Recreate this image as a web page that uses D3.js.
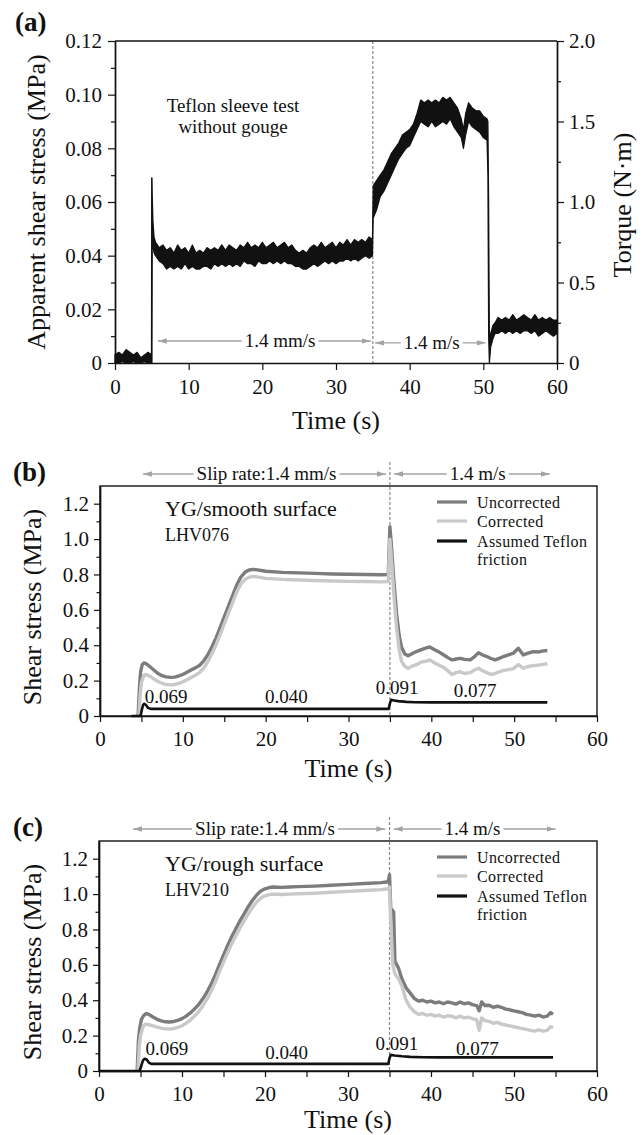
<!DOCTYPE html>
<html>
<head>
<meta charset="utf-8">
<script src="https://cdn.jsdelivr.net/npm/d3@7"></script>
<style>
  body { margin: 0; background: #fff; }
  svg text { font-family: "Liberation Serif", "Times New Roman", serif; fill: #111; }
</style>
</head>
<body>
<svg id="fig" width="644" height="1135"></svg>
<script>
// ---- data ----
// (a) Teflon sleeve test: [time s, lower edge, upper edge] of the noisy trace (MPa)
var aTrace = [
  [0,0,0.003],[0.5,0,0.004],[1,0.0005,0.003],[1.5,0,0.005],[2,0,0.004],[2.5,0.0005,0.003],[3,0,0.004],
  [3.5,0,0.002],[4,0.0005,0.003],[4.5,0,0.004],[4.95,0,0.003],[4.98,0,0.069],[5.02,0,0.069],
  [5.06,0.05,0.062],[5.15,0.044,0.053],[5.3,0.041,0.047],[5.5,0.040,0.045],[5.75,0.039,0.044],
  [6,0.038,0.043],[6.5,0.037,0.044],[7,0.035,0.042],[7.5,0.036,0.043],[8,0.035,0.041],[8.5,0.036,0.044],
  [9,0.035,0.042],[9.5,0.037,0.043],[10,0.035,0.041],[10.5,0.036,0.044],[11,0.035,0.041],[11.5,0.035,0.042],
  [12,0.036,0.041],[12.5,0.036,0.043],[13,0.035,0.042],[13.5,0.037,0.043],[14,0.036,0.042],[14.5,0.037,0.044],
  [15,0.036,0.042],[15.5,0.037,0.044],[16,0.036,0.043],[16.5,0.037,0.042],[17,0.036,0.044],[17.5,0.038,0.043],
  [18,0.037,0.045],[18.5,0.037,0.043],[19,0.036,0.044],[19.5,0.038,0.043],[20,0.037,0.045],[20.5,0.037,0.043],
  [21,0.038,0.044],[21.5,0.037,0.045],[22,0.038,0.043],[22.5,0.037,0.044],[23,0.038,0.045],[23.5,0.037,0.043],
  [24,0.037,0.044],[24.5,0.036,0.042],[25,0.036,0.041],[25.5,0.035,0.042],[26,0.035,0.041],[26.5,0.036,0.043],
  [27,0.037,0.044],[27.5,0.036,0.043],[28,0.037,0.045],[28.5,0.038,0.043],[29,0.037,0.044],[29.5,0.038,0.045],
  [30,0.037,0.043],[30.5,0.038,0.045],[31,0.038,0.044],[31.5,0.039,0.046],[32,0.038,0.044],[32.5,0.039,0.046],
  [33,0.038,0.045],[33.5,0.039,0.046],[34,0.040,0.045],[34.5,0.039,0.047],[34.95,0.040,0.046],
  [35.05,0.054,0.066],[35.5,0.057,0.068],[36,0.062,0.070],[36.5,0.064,0.072],[37,0.067,0.075],[37.5,0.070,0.078],
  [38,0.073,0.080],[38.5,0.076,0.082],[39,0.078,0.085],[39.5,0.080,0.086],[40,0.081,0.087],[40.5,0.084,0.089],
  [41,0.087,0.093],[41.5,0.090,0.098],[42,0.089,0.097],[42.5,0.088,0.098],[43,0.090,0.097],[43.5,0.088,0.098],
  [44,0.089,0.097],[44.5,0.090,0.099],[45,0.089,0.098],[45.5,0.091,0.099],[46,0.088,0.097],[46.5,0.086,0.095],
  [47,0.084,0.091],[47.3,0.080,0.087],[47.6,0.085,0.093],[48,0.090,0.097],[48.5,0.088,0.095],[49,0.087,0.094],
  [49.5,0.086,0.094],[50,0.084,0.092],[50.5,0.083,0.091],[50.62,0.070,0.090],[50.72,0.010,0.060],[50.82,0,0.010],
  [51,0.006,0.011],[51.3,0.009,0.014],[51.6,0.011,0.015],[52,0.011,0.017],[52.5,0.012,0.016],[53,0.011,0.017],
  [53.5,0.012,0.016],[54,0.011,0.018],[54.5,0.012,0.016],[55,0.011,0.017],[55.5,0.012,0.018],[56,0.012,0.017],
  [56.5,0.011,0.016],[57,0.012,0.018],[57.5,0.010,0.016],[58,0.011,0.017],[58.5,0.012,0.016],[59,0.011,0.017],
  [59.5,0.010,0.016],[60,0.011,0.016]
];

// (b) YG/smooth surface, LHV076: [time s, shear stress MPa]
var bUncorr = [
  [4.6,0],[4.75,0.15],[4.9,0.25],[5.1,0.29],[5.3,0.30],[5.6,0.295],[6,0.28],[6.5,0.26],[7,0.24],[7.5,0.228],
  [8,0.221],[8.5,0.218],[9,0.22],[9.5,0.226],[10,0.235],[10.5,0.247],[11,0.26],[11.5,0.272],[12,0.285],[12.5,0.31],
  [13,0.345],[13.5,0.39],[14,0.44],[14.5,0.5],[15,0.56],[15.5,0.62],[16,0.68],[16.5,0.74],[17,0.785],[17.5,0.812],
  [18,0.825],[18.5,0.829],[19,0.826],[20,0.818],[22,0.812],[24,0.809],[26,0.806],[28,0.803],[30,0.801],[32,0.80],
  [34,0.798],[34.8,0.80],[35.0,1.07],[35.2,0.95],[35.5,0.75],[35.8,0.58],[36.1,0.46],[36.4,0.39],[36.8,0.35],
  [37.2,0.34],[37.6,0.35],[38.2,0.364],[38.8,0.375],[39.4,0.385],[39.8,0.39],[40.4,0.374],[41,0.36],[41.5,0.345],
  [42,0.33],[42.5,0.317],[43,0.322],[43.5,0.326],[44,0.32],[44.7,0.317],[45.2,0.335],[45.7,0.358],[46.2,0.345],
  [46.7,0.336],[47.2,0.325],[47.7,0.317],[48.2,0.326],[48.7,0.336],[49.3,0.345],[49.9,0.355],[50.5,0.383],
  [51.1,0.345],[51.7,0.355],[52.3,0.364],[53,0.362],[53.5,0.368],[54,0.37]
];
var bCorr = [
  [4.7,0],[4.85,0.12],[5.0,0.19],[5.3,0.23],[5.6,0.235],[6,0.225],[6.5,0.21],[7,0.195],[7.5,0.185],[8,0.178],
  [8.5,0.176],[9,0.178],[9.5,0.184],[10,0.193],[10.5,0.205],[11,0.218],[11.5,0.23],[12,0.245],[12.5,0.27],
  [13,0.305],[13.5,0.35],[14,0.40],[14.5,0.46],[15,0.52],[15.5,0.58],[16,0.64],[16.5,0.70],[17,0.745],[17.5,0.772],
  [18,0.785],[18.5,0.789],[19,0.786],[20,0.778],[22,0.772],[24,0.769],[26,0.766],[28,0.763],[30,0.761],[32,0.76],
  [34,0.758],[34.8,0.76],[35.0,1.0],[35.2,0.88],[35.5,0.67],[35.8,0.5],[36.1,0.38],[36.4,0.31],[36.8,0.28],
  [37.2,0.27],[37.6,0.28],[38.2,0.29],[38.8,0.305],[39.4,0.31],[39.8,0.317],[40.4,0.3],[41,0.285],[41.5,0.275],
  [42,0.255],[42.5,0.235],[43,0.245],[43.5,0.25],[44,0.24],[44.7,0.245],[45.2,0.26],[45.7,0.27],[46.2,0.255],
  [46.7,0.245],[47.2,0.235],[47.7,0.24],[48.2,0.25],[48.7,0.258],[49.3,0.262],[49.9,0.268],[50.5,0.29],
  [51.1,0.27],[51.7,0.28],[52.3,0.285],[53,0.288],[53.5,0.292],[54,0.295]
];
var bTeflon = [
  [3.8,0],[4.9,0],[5.05,0.035],[5.2,0.062],[5.35,0.069],[5.55,0.062],[5.8,0.046],[6.1,0.04],[34.85,0.04],
  [35.0,0.072],[35.15,0.091],[35.5,0.088],[36,0.084],[37,0.08],[38,0.078],[40,0.077],[54,0.077]
];

// (c) YG/rough surface, LHV210
var cUncorr = [
  [4.6,0],[4.75,0.17],[4.9,0.24],[5.1,0.29],[5.4,0.315],[5.7,0.325],[6,0.32],[6.5,0.305],[7,0.292],[7.5,0.283],
  [8,0.278],[8.5,0.277],[9,0.28],[9.5,0.286],[10,0.296],[10.5,0.31],[11,0.328],[11.5,0.35],[12,0.375],[12.5,0.408],
  [13,0.445],[13.5,0.49],[14,0.54],[14.5,0.6],[15,0.655],[15.5,0.71],[16,0.76],[16.5,0.805],[17,0.85],[17.5,0.89],
  [18,0.93],[18.5,0.965],[19,0.995],[19.5,1.018],[20,1.03],[20.5,1.037],[21,1.04],[22,1.038],[23,1.04],[24,1.042],
  [26,1.045],[28,1.05],[30,1.055],[32,1.06],[34,1.065],[34.85,1.07],[35.0,1.11],[35.15,0.92],[35.5,0.9],
  [35.65,0.62],[36.1,0.58],[36.5,0.52],[37,0.47],[37.5,0.44],[38,0.41],[38.5,0.395],[39,0.4],[39.5,0.39],
  [40,0.395],[40.5,0.385],[41,0.39],[41.5,0.38],[42,0.39],[42.5,0.385],[43,0.378],[43.5,0.39],[44,0.38],
  [44.5,0.385],[45,0.375],[45.5,0.37],[45.8,0.34],[46.1,0.39],[46.5,0.37],[47,0.372],[47.5,0.36],[48,0.366],
  [48.5,0.36],[49,0.35],[49.5,0.346],[50,0.34],[50.5,0.335],[51,0.33],[51.5,0.32],[52,0.316],[52.5,0.31],
  [53,0.316],[53.5,0.305],[54,0.31],[54.4,0.33],[54.7,0.32]
];
var cCorr = [
  [4.7,0],[4.85,0.14],[5.0,0.2],[5.3,0.25],[5.6,0.265],[6,0.262],[6.5,0.255],[7,0.248],[7.5,0.242],[8,0.238],
  [8.5,0.237],[9,0.24],[9.5,0.246],[10,0.256],[10.5,0.27],[11,0.288],[11.5,0.31],[12,0.335],[12.5,0.368],
  [13,0.405],[13.5,0.45],[14,0.5],[14.5,0.56],[15,0.615],[15.5,0.67],[16,0.72],[16.5,0.765],[17,0.81],[17.5,0.85],
  [18,0.89],[18.5,0.925],[19,0.955],[19.5,0.978],[20,0.99],[20.5,0.997],[21,1.0],[22,0.998],[23,1.0],[24,1.002],
  [26,1.005],[28,1.01],[30,1.015],[32,1.02],[34,1.025],[34.85,1.03],[35.0,1.04],[35.15,0.85],[35.4,0.6],
  [35.65,0.55],[36.1,0.52],[36.5,0.48],[37,0.4],[37.5,0.36],[38,0.335],[38.5,0.32],[39,0.325],[39.5,0.315],
  [40,0.32],[40.5,0.31],[41,0.315],[41.5,0.305],[42,0.312],[42.5,0.31],[43,0.3],[43.5,0.31],[44,0.3],[44.5,0.305],
  [45,0.295],[45.5,0.29],[45.8,0.23],[46.1,0.3],[46.5,0.285],[47,0.28],[47.5,0.27],[48,0.275],[48.5,0.265],
  [49,0.26],[49.5,0.255],[50,0.25],[50.5,0.245],[51,0.24],[51.5,0.235],[52,0.23],[52.5,0.225],[53,0.232],
  [53.5,0.225],[54,0.23],[54.4,0.25],[54.7,0.245]
];
var cTeflon = [
  [0,0],[4.9,0],[5.1,0.03],[5.3,0.06],[5.5,0.069],[5.75,0.065],[6.0,0.048],[6.3,0.04],[34.85,0.04],
  [35.0,0.072],[35.15,0.091],[35.6,0.088],[36.5,0.083],[37.5,0.08],[39,0.078],[41,0.077],[54.7,0.077]
];

// Teflon friction values written on panels b and c: [label time, value, label height, anchor]
var bFricLabels = [[5.4, 0.069, 0.075, "start"], [22.5, 0.040, 0.075, "middle"], [33.3, 0.091, 0.125, "start"], [45.3, 0.077, 0.107, "middle"]];
var cFricLabels = [[5.6, 0.069, 0.090, "start"], [22.6, 0.040, 0.068, "middle"], [33.3, 0.091, 0.118, "start"], [45.6, 0.077, 0.090, "middle"]];

var legendNames = ["Uncorrected", "Corrected", "Assumed Teflon"];
var shearTicks = [0, 0.2, 0.4, 0.6, 0.8, 1.0, 1.2];
var shearMinor = [0.1, 0.3, 0.5, 0.7, 0.9, 1.1];
var timeTicks = [0, 5, 10, 15, 20, 25, 30, 35, 40, 45, 50, 55, 60];
var aTicks = [0, 0.02, 0.04, 0.06, 0.08, 0.10, 0.12];
var aMinor = [0.01, 0.03, 0.05, 0.07, 0.09, 0.11];
var torqueTicks = [0, 0.5, 1.0, 1.5, 2.0];
var torqueMinor = [0.25, 0.75, 1.25, 1.75];

var colUncorr = "#7c7c7c", colCorr = "#c9c9c9", colTef = "#111";

var svg = d3.select("#fig");
svg.append("rect").attr("width", 644).attr("height", 1135).attr("fill", "#fff");

var defs = svg.append("defs");
defs.append("marker")
    .attr("id", "ahead")
    .attr("viewBox", "0 0 10 6")
    .attr("refX", 10).attr("refY", 3)
    .attr("markerWidth", 9).attr("markerHeight", 5.4)
    .attr("markerUnits", "userSpaceOnUse")
    .attr("orient", "auto-start-reverse")
    .append("path").attr("d", "M0,0L10,3L0,6Z").attr("fill", "#a3a3a3");

function styleAxis(g, size) {
    g.attr("font-family", null).attr("font-size", null);
    g.select(".domain").attr("stroke", "#111").attr("stroke-width", 1.4);
    g.selectAll(".tick line").attr("stroke", "#111").attr("stroke-width", 1.2);
    g.selectAll("text").style("font-size", size + "px");
}

// arrow with a label sitting in a gap of the line
function speedArrow(g, x, yPix, t1, t2, tc, label, size) {
    var lab = g.append("text")
        .attr("x", x(tc)).attr("y", yPix + size * 0.33)
        .attr("text-anchor", "middle")
        .style("font-size", size + "px")
        .text(label);
    var w = lab.node().getComputedTextLength();
    g.append("line")
        .attr("x1", x(t1)).attr("x2", x(tc) - w / 2 - 3)
        .attr("y1", yPix).attr("y2", yPix)
        .attr("stroke", "#a3a3a3").attr("stroke-width", 1.3)
        .attr("marker-start", "url(#ahead)");
    g.append("line")
        .attr("x1", x(tc) + w / 2 + 3).attr("x2", x(t2))
        .attr("y1", yPix).attr("y2", yPix)
        .attr("stroke", "#a3a3a3").attr("stroke-width", 1.3)
        .attr("marker-end", "url(#ahead)");
}

// ================= panel (a) =================
var pa = { left: 115, right: 557, top: 41, bottom: 363 };
var xa = d3.scaleLinear().domain([0, 60]).range([pa.left, pa.right]);
var ya = d3.scaleLinear().domain([0, 0.12]).range([pa.bottom, pa.top]);
var ya2 = d3.scaleLinear().domain([0, 2]).range([pa.bottom, pa.top]);
var ga = svg.append("g");

ga.append("line")
    .attr("x1", xa(35)).attr("x2", xa(35)).attr("y1", pa.top).attr("y2", pa.bottom)
    .attr("stroke", "#888").attr("stroke-width", 1.2).attr("stroke-dasharray", "3,2");

var bandA = d3.area().x(d => xa(d[0])).y0(d => ya(d[1])).y1(d => ya(d[2]));
ga.append("path").datum(aTrace).attr("d", bandA)
    .attr("fill", "#111").attr("stroke", "#111").attr("stroke-width", 1.2).attr("stroke-linejoin", "round");

ga.append("line").attr("x1", pa.left).attr("x2", pa.right).attr("y1", pa.top).attr("y2", pa.top)
    .attr("stroke", "#111").attr("stroke-width", 1.4);

ga.append("g").attr("transform", "translate(0," + pa.bottom + ")")
    .call(d3.axisBottom(xa).tickValues([0, 10, 20, 30, 40, 50, 60]).tickSize(7).tickPadding(9).tickSizeOuter(0))
    .call(g => styleAxis(g, 21));
ga.append("g").attr("transform", "translate(" + pa.left + ",0)")
    .call(d3.axisLeft(ya).tickValues(aTicks).tickFormat(d => d === 0 ? "0" : d3.format(".2f")(d)).tickSize(7).tickPadding(6).tickSizeOuter(0))
    .call(g => styleAxis(g, 21));
ga.append("g").attr("transform", "translate(" + pa.left + ",0)")
    .call(d3.axisLeft(ya).tickValues(aMinor).tickFormat("").tickSize(4).tickSizeOuter(0))
    .call(g => styleAxis(g, 21));
ga.append("g").attr("transform", "translate(" + pa.right + ",0)")
    .call(d3.axisRight(ya2).tickValues(torqueTicks).tickFormat(d => d === 0 ? "0" : d3.format(".1f")(d)).tickSize(7).tickPadding(5).tickSizeOuter(0))
    .call(g => styleAxis(g, 21));
ga.append("g").attr("transform", "translate(" + pa.right + ",0)")
    .call(d3.axisRight(ya2).tickValues(torqueMinor).tickFormat("").tickSize(4).tickSizeOuter(0))
    .call(g => styleAxis(g, 21));

ga.append("text").attr("x", 15).attr("y", 31).style("font-size", "27px").style("font-weight", "bold").text("(a)");
ga.append("text").attr("transform", "translate(45," + ((pa.top + pa.bottom) / 2) + ") rotate(-90)")
    .attr("text-anchor", "middle").style("font-size", "26px").text("Apparent shear stress (MPa)");
ga.append("text").attr("transform", "translate(631,205) rotate(-90)")
    .attr("text-anchor", "middle").style("font-size", "26px").text("Torque (N\u00b7m)");
ga.append("text").attr("x", (pa.left + pa.right) / 2).attr("y", 429)
    .attr("text-anchor", "middle").style("font-size", "26px").text("Time (s)");
ga.append("text").attr("x", 233).attr("y", 112).attr("text-anchor", "middle").style("font-size", "19px").text("Teflon sleeve test");
ga.append("text").attr("x", 233).attr("y", 133).attr("text-anchor", "middle").style("font-size", "19px").text("without gouge");

speedArrow(ga, xa, ya(0.0082), 5.8, 34.7, 22.4, "1.4 mm/s", 19);
speedArrow(ga, xa, ya(0.0075), 35.3, 50.3, 43.0, "1.4 m/s", 19);

// ================= panels (b), (c) =================
function shearPanel(cfg) {
    var x = d3.scaleLinear().domain([0, 60]).range([cfg.left, cfg.right]);
    var y = d3.scaleLinear().domain([0, 1.3]).range([cfg.bottom, cfg.top]);
    var g = svg.append("g");

    g.append("line")
        .attr("x1", x(35)).attr("x2", x(35)).attr("y1", cfg.top - 24).attr("y2", cfg.bottom)
        .attr("stroke", "#888").attr("stroke-width", 1.2).attr("stroke-dasharray", "3,2");

    var line = d3.line().x(d => x(d[0])).y(d => y(d[1]));
    g.append("path").datum(cfg.uncorr).attr("d", line).attr("fill", "none")
        .attr("stroke", colUncorr).attr("stroke-width", 3.4).attr("stroke-linejoin", "round");
    g.append("path").datum(cfg.corr).attr("d", line).attr("fill", "none")
        .attr("stroke", colCorr).attr("stroke-width", 3.4).attr("stroke-linejoin", "round");
    g.append("path").datum(cfg.teflon).attr("d", line).attr("fill", "none")
        .attr("stroke", colTef).attr("stroke-width", 2.6).attr("stroke-linejoin", "round");

    cfg.fric.forEach(function (f) {
        g.append("text").attr("x", x(f[0])).attr("y", y(f[2]))
            .attr("text-anchor", f[3]).style("font-size", "19px")
            .text(d3.format(".3f")(f[1]));
    });

    g.append("rect").attr("x", cfg.left).attr("y", cfg.top)
        .attr("width", cfg.right - cfg.left).attr("height", cfg.bottom - cfg.top)
        .attr("fill", "none").attr("stroke", "#111").attr("stroke-width", 1.4);

    g.append("g").attr("transform", "translate(0," + cfg.bottom + ")")
        .call(d3.axisBottom(x).tickValues(timeTicks).tickFormat(d => d % 10 === 0 ? d : "").tickSize(6).tickPadding(9).tickSizeOuter(0))
        .call(a => styleAxis(a, 21));
    g.append("g").attr("transform", "translate(" + cfg.left + ",0)")
        .call(d3.axisLeft(y).tickValues(shearTicks).tickFormat(d => d === 0 ? "0" : d3.format(".1f")(d)).tickSize(6).tickPadding(5).tickSizeOuter(0))
        .call(a => styleAxis(a, 21));
    g.append("g").attr("transform", "translate(" + cfg.left + ",0)")
        .call(d3.axisLeft(y).tickValues(shearMinor).tickFormat("").tickSize(3.5).tickSizeOuter(0))
        .call(a => styleAxis(a, 21));

    g.append("text").attr("x", 13).attr("y", cfg.top - 5).style("font-size", "27px").style("font-weight", "bold").text(cfg.tag);
    g.append("text").attr("transform", "translate(41," + ((cfg.top + cfg.bottom) / 2 + 6) + ") rotate(-90)")
        .attr("text-anchor", "middle").style("font-size", "26px").text("Shear stress (MPa)");
    g.append("text").attr("x", (cfg.left + cfg.right) / 2).attr("y", cfg.timeY)
        .attr("text-anchor", "middle").style("font-size", "26px").text("Time (s)");

    g.append("text").attr("x", 165).attr("y", cfg.top + 30).style("font-size", "22px").text(cfg.title);
    g.append("text").attr("x", 165).attr("y", cfg.top + 55).style("font-size", "18px").text(cfg.run);

    // legend
    var lgY = [cfg.top + 16, cfg.top + 35, cfg.top + 55];
    var lgCol = [colUncorr, colCorr, colTef];
    legendNames.forEach(function (name, i) {
        g.append("line").attr("x1", 437).attr("x2", 467).attr("y1", lgY[i]).attr("y2", lgY[i])
            .attr("stroke", lgCol[i]).attr("stroke-width", 3.2);
        g.append("text").attr("x", 477).attr("y", lgY[i] + 6)
            .style("font-size", "16px").style("letter-spacing", "0.4px").text(name);
    });
    g.append("text").attr("x", 477).attr("y", cfg.top + 79)
        .style("font-size", "16px").style("letter-spacing", "0.4px").text("friction");

    speedArrow(g, x, cfg.top - 12, cfg.arrow1[0], cfg.arrow1[1], cfg.arrow1[2], "Slip rate:1.4 mm/s", 19);
    speedArrow(g, x, cfg.top - 12, 35.5, cfg.arrow2[0], cfg.arrow2[1], "1.4 m/s", 19);
}

shearPanel({
    tag: "(b)", left: 100, right: 597, top: 486, bottom: 716, timeY: 777,
    uncorr: bUncorr, corr: bCorr, teflon: bTeflon, fric: bFricLabels,
    title: "YG/smooth surface", run: "LHV076",
    arrow1: [5.2, 34.5, 20.1], arrow2: [54.3, 45.6]
});
shearPanel({
    tag: "(c)", left: 99, right: 597, top: 841, bottom: 1071, timeY: 1128,
    uncorr: cUncorr, corr: cCorr, teflon: cTeflon, fric: cFricLabels,
    title: "YG/rough surface", run: "LHV210",
    arrow1: [4.1, 34.5, 20.0], arrow2: [55.0, 45.0]
});
</script>
</body>
</html>
